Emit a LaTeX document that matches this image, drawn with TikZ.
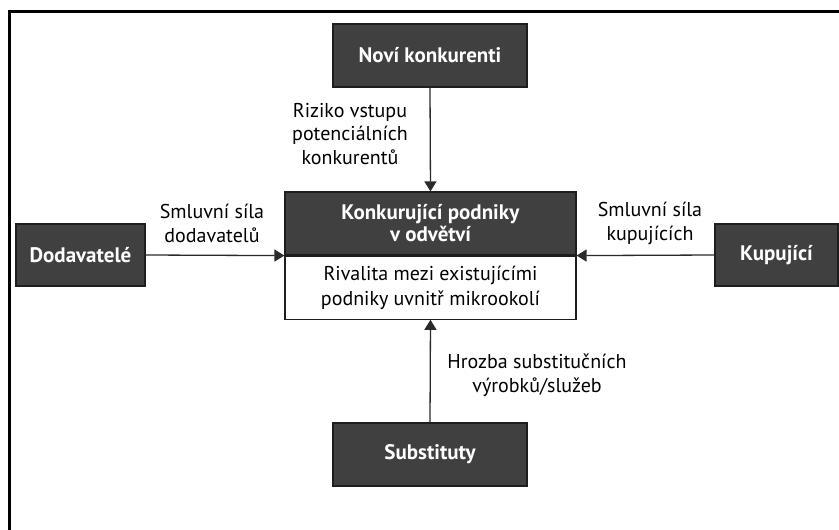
\documentclass[tikz,border=0pt]{standalone}
\usepackage{fontspec}
\setmainfont{PT Sans}
\usetikzlibrary{arrows.meta}
\definecolor{boxfill}{HTML}{404040}
\definecolor{boxline}{HTML}{1E1E1E}
\definecolor{linecol}{HTML}{2A2A2A}
\tikzset{
  darkbox/.style={draw=boxline, line width=1.2pt, fill=boxfill, text=white,
    font=\fontsize{21}{22}\selectfont\bfseries, align=center, inner sep=0pt},
  whitebox/.style={draw=boxline, line width=1.2pt, fill=white, text=black,
    font=\fontsize{20}{24.5}\selectfont, align=center, inner sep=0pt},
  lbl/.style={font=\fontsize{20}{23.5}\selectfont, align=center, inner sep=0pt, text=black},
  conn/.style={draw=linecol, line width=1.3pt, -{Triangle[width=12pt,length=10pt]}},
}
\begin{document}
\begin{tikzpicture}[x=1pt,y=-1pt]
\useasboundingbox (0,0) rectangle (839,530);
% frame (top and left only)
\draw[line width=3pt, black] (9.5,530) -- (9.5,11.5) -- (839,11.5);
% boxes
\node[darkbox, minimum width=194pt, minimum height=63pt] (novi) at (430,55.5) {Noví konkurenti};
\node[darkbox, minimum width=291pt, minimum height=63pt] (core) at (430.5,223.5) {Konkurující podniky\\v odvětví};
\node[whitebox, minimum width=291pt, minimum height=63pt, anchor=north] (rival) at (core.south) {Rivalita mezi existujícími\\podniky uvnitř mikrookolí};
\node[darkbox, minimum width=129pt, minimum height=62pt] (dod) at (80.5,255) {Dodavatelé};
\node[darkbox, minimum width=123pt, minimum height=62pt] (kup) at (776.5,255) {Kupující};
\node[darkbox, minimum width=194pt, minimum height=63pt] (subst) at (430,454.5) {Substituty};
% connectors
\draw[conn] (novi.south) -- (core.north);
\draw[conn] (dod.east) -- (core.south west);
\draw[conn] (kup.west) -- (core.south east);
\draw[conn] (subst.north) -- (rival.south);
% labels
\node[lbl] (l1) at (350,134) {Riziko vstupu\\potenciálních\\konkurentů};
\node[lbl] (l2) at (212,223.5) {Smluvní síla\\dodavatelů};
\node[lbl] (l3) at (650,223.5) {Smluvní síla\\kupujících};
\node[lbl] (l4) at (537,375) {Hrozba substitučních\\výrobků/služeb};
\end{tikzpicture}
\end{document}
